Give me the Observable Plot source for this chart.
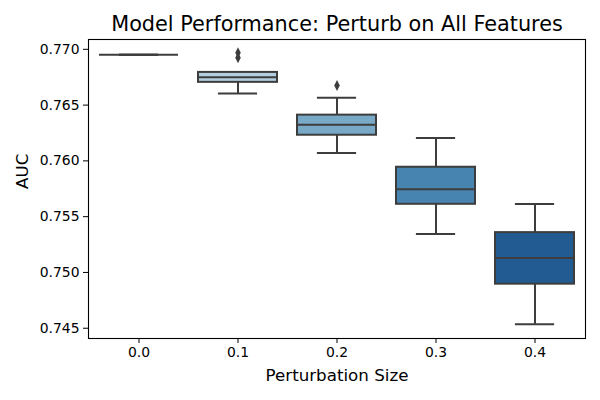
<!DOCTYPE html>
<html>
<head>
<meta charset="utf-8">
<script src="https://cdn.jsdelivr.net/npm/d3@7"></script>
<script src="https://cdn.jsdelivr.net/npm/@observablehq/plot@0.6"></script>
<style>
  html, body { margin: 0; padding: 0; background: #ffffff; }
  #chart svg { display: block; }
</style>
</head>
<body>
<div id="chart"></div>
<script>
// ---- Data ----
const categories  = ["0.0", "0.1", "0.2", "0.3", "0.4"];
const q1          = [0.76952, 0.76704, 0.76230, 0.75611, 0.74895];
const medians     = [0.76952, 0.76749, 0.76323, 0.75745, 0.75129];
const q3          = [0.76952, 0.76793, 0.76410, 0.75943, 0.75357];
const whiskerLow  = [0.76952, 0.76605, 0.76071, 0.75344, 0.74536];
const whiskerHigh = [0.76952, 0.76793, 0.76565, 0.76206, 0.75613];
const boxColors   = ["#d4e1ee", "#b2cedf", "#78aac8", "#4884b0", "#225b91"];
const outlierCategory = ["0.1", "0.1", "0.2"];
const outlierValue    = [0.76969, 0.76924, 0.76675];
const yTicks = [0.745, 0.750, 0.755, 0.760, 0.765, 0.770];

const title  = "Model Performance: Perturb on All Features";
const xLabel = "Perturbation Size";
const yLabel = "AUC";

// ---- Tables built from the arrays ----
const boxes = categories.map((c, i) => ({
  cat: c, q1: q1[i], med: medians[i], q3: q3[i],
  lo: whiskerLow[i], hi: whiskerHigh[i], color: boxColors[i]
}));
const outliers = outlierCategory.map((c, i) => ({cat: c, v: outlierValue[i]}));

const lineColor = "#3d3d3d";
const thinDiamond = {
  draw(ctx, size) {
    const r = Math.sqrt(size / Math.PI);
    ctx.moveTo(0, -r);
    ctx.lineTo(r * 0.5, 0);
    ctx.lineTo(0, r);
    ctx.lineTo(-r * 0.5, 0);
    ctx.closePath();
  }
};

const plot = Plot.plot({
  width: 600,
  height: 400,
  marginLeft: 88,
  marginRight: 15,
  marginTop: 39,
  marginBottom: 62,
  style: {fontFamily: "DejaVu Sans", fontSize: "13.9px", background: "#ffffff", color: "#000"},
  x: {type: "band", domain: categories, paddingInner: 0.2, paddingOuter: 0.1, label: null},
  y: {domain: [0.74408, 0.77088], label: null},
  color: {type: "identity"},
  marks: [
    Plot.frame({stroke: "#000", strokeWidth: 1.1}),
    Plot.axisX({tickSize: 5, tickPadding: 4, label: null, fontSize: 13.9}),
    Plot.axisY({ticks: yTicks, tickFormat: d3.format(".3f"), tickSize: 5, tickPadding: 4, label: null, fontSize: 13.9}),
    // whiskers
    Plot.ruleX(boxes, {x: "cat", y1: "q3", y2: "hi", stroke: lineColor, strokeWidth: 2}),
    Plot.ruleX(boxes, {x: "cat", y1: "lo", y2: "q1", stroke: lineColor, strokeWidth: 2}),
    // whisker caps
    Plot.tickY(boxes, {x: "cat", y: "hi", stroke: lineColor, strokeWidth: 2, insetLeft: 19.9, insetRight: 19.9}),
    Plot.tickY(boxes, {x: "cat", y: "lo", stroke: lineColor, strokeWidth: 2, insetLeft: 19.9, insetRight: 19.9}),
    // boxes
    Plot.barY(boxes, {x: "cat", y1: "q1", y2: "q3", fill: "color", stroke: lineColor, strokeWidth: 2}),
    // medians
    Plot.tickY(boxes, {x: "cat", y: "med", stroke: lineColor, strokeWidth: 2}),
    // outliers
    Plot.dot(outliers, {x: "cat", y: "v", r: 5.5, symbol: thinDiamond, fill: lineColor, stroke: "none"}),
    // title and axis labels
    Plot.text([title], {text: d => d, frameAnchor: "top", lineAnchor: "bottom", dy: -8.3, fontSize: 20.8, fill: "#000"}),
    Plot.text([xLabel], {text: d => d, frameAnchor: "bottom", lineAnchor: "bottom", dy: 42.7, fontSize: 16.7, fill: "#000"}),
    Plot.text([yLabel], {text: d => d, frameAnchor: "left", lineAnchor: "bottom", rotate: -90, dx: -61, fontSize: 16.7, fill: "#000"})
  ]
});

document.getElementById("chart").appendChild(plot);
</script>
</body>
</html>
